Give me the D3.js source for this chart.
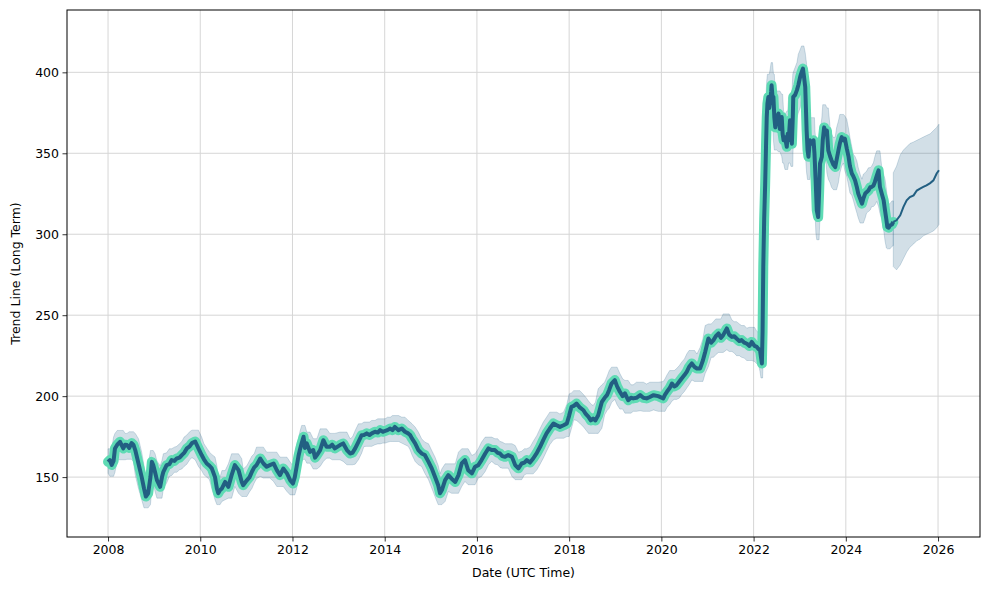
<!DOCTYPE html>
<html><head><meta charset="utf-8">
<script src="https://cdn.jsdelivr.net/npm/d3@7"></script>
<style>body{margin:0;background:#fff}svg{display:block}text{font-family:"DejaVu Sans",sans-serif}</style>
</head><body><svg id="c" width="989" height="590"></svg>
<script>
// ---- data (decimal years / trend values) ----
const histYears=[2008.00,2008.04,2008.08,2008.12,2008.15,2008.20,2008.26,2008.33,2008.37,2008.41,2008.46,2008.51,2008.55,2008.59,2008.66,2008.73,2008.78,2008.82,2008.87,2008.92,2008.95,2008.98,2009.02,2009.06,2009.13,2009.17,2009.20,2009.27,2009.33,2009.38,2009.44,2009.49,2009.55,2009.60,2009.65,2009.71,2009.77,2009.82,2009.89,2009.96,2010.03,2010.08,2010.14,2010.20,2010.25,2010.32,2010.36,2010.39,2010.43,2010.47,2010.54,2010.61,2010.68,2010.75,2010.83,2010.90,2010.93,2011.01,2011.07,2011.12,2011.17,2011.22,2011.30,2011.37,2011.44,2011.51,2011.59,2011.66,2011.73,2011.80,2011.88,2011.95,2012.01,2012.05,2012.09,2012.13,2012.16,2012.20,2012.24,2012.27,2012.31,2012.38,2012.45,2012.49,2012.53,2012.60,2012.67,2012.74,2012.81,2012.86,2012.92,2013.03,2013.10,2013.18,2013.25,2013.30,2013.36,2013.43,2013.50,2013.55,2013.61,2013.67,2013.72,2013.79,2013.85,2013.90,2013.96,2014.01,2014.06,2014.12,2014.17,2014.22,2014.30,2014.37,2014.44,2014.51,2014.55,2014.59,2014.66,2014.73,2014.80,2014.87,2014.95,2015.02,2015.09,2015.16,2015.20,2015.24,2015.31,2015.38,2015.45,2015.53,2015.60,2015.67,2015.74,2015.81,2015.89,2015.96,2016.03,2016.10,2016.18,2016.25,2016.32,2016.39,2016.45,2016.50,2016.55,2016.61,2016.68,2016.76,2016.83,2016.90,2016.97,2017.03,2017.08,2017.15,2017.22,2017.30,2017.37,2017.44,2017.51,2017.58,2017.66,2017.73,2017.80,2017.88,2017.95,2018.00,2018.05,2018.10,2018.16,2018.23,2018.31,2018.36,2018.42,2018.47,2018.52,2018.57,2018.63,2018.71,2018.77,2018.82,2018.87,2018.92,2018.99,2019.04,2019.10,2019.16,2019.21,2019.28,2019.34,2019.39,2019.46,2019.54,2019.61,2019.68,2019.75,2019.83,2019.93,2020.04,2020.08,2020.12,2020.18,2020.23,2020.28,2020.33,2020.39,2020.44,2020.50,2020.55,2020.60,2020.66,2020.72,2020.77,2020.84,2020.90,2020.95,2021.02,2021.08,2021.13,2021.18,2021.24,2021.29,2021.34,2021.42,2021.47,2021.53,2021.58,2021.63,2021.69,2021.74,2021.80,2021.85,2021.91,2021.96,2022.02,2022.07,2022.11,2022.14,2022.16,2022.18,2022.195,2022.21,2022.23,2022.25,2022.27,2022.285,2022.30,2022.32,2022.34,2022.36,2022.38,2022.39,2022.41,2022.43,2022.45,2022.47,2022.50,2022.54,2022.57,2022.61,2022.63,2022.65,2022.68,2022.72,2022.74,2022.76,2022.79,2022.81,2022.83,2022.85,2022.86,2022.90,2022.94,2022.97,2023.01,2023.04,2023.07,2023.09,2023.12,2023.15,2023.17,2023.19,2023.22,2023.26,2023.30,2023.32,2023.33,2023.35,2023.37,2023.40,2023.42,2023.44,2023.48,2023.50,2023.53,2023.56,2023.59,2023.62,2023.66,2023.69,2023.73,2023.77,2023.80,2023.84,2023.87,2023.91,2023.95,2023.98,2024.02,2024.06,2024.09,2024.13,2024.16,2024.20,2024.24,2024.27,2024.31,2024.35,2024.38,2024.42,2024.45,2024.49,2024.53,2024.56,2024.60,2024.63,2024.67,2024.71,2024.74,2024.78,2024.82,2024.85,2024.88,2024.90,2024.93,2024.96,2025.00,2025.03];
const histTrend=[159.4,160.5,157.5,160,167.7,170,171.8,167.7,170,169.8,168,171.0,170,166.7,158.4,150.0,143,138,140,150,159.4,157.4,153,148.1,144.0,150,153.3,157.4,158,160.5,160,161.5,162,163.6,165,167.7,169,171.0,172.0,167.7,163.6,161,158.4,157,155.4,150.0,143,140.0,142,143.0,147.0,144.0,151.2,157.4,154.3,147.0,145,148,150,153.3,156,157.4,161.5,158.4,156.4,157.4,158.4,154.3,151.2,155.3,152.3,148.1,146.0,150,156.4,163,166.7,171,174.9,168,170.8,165.6,166.7,162,163.6,166.7,172.8,168.7,168.7,170,167.7,169.8,170.8,166.7,164.6,165,167.7,171.8,175.9,176,177.0,176,177.0,178.0,177.5,179.0,178,178.5,179,180.0,179,181.0,179.0,180.0,178.0,177.0,176,173.9,170.8,166.7,164.6,163.6,159.4,155.4,150.2,145.0,140,142.0,148.1,151.2,149.0,147.0,151.2,158.4,160.5,154.3,152.3,156.4,157.4,160.5,164.6,167.7,166.7,166.7,165,164.6,163,162.5,163.6,162.5,157.4,155.4,158.4,159,160.5,159,161.5,165,168.7,173,177.0,180,183.1,182,181.0,182,183.1,188,193.4,194,195.4,193,191.3,189,187.2,185,186.2,185,188.2,196.5,199,200.6,204,207.8,209.9,206,202.7,200,201.7,197.5,199,198.6,199,200.6,199,198.6,199.5,200.6,200.0,198.6,201,202.7,205,207.8,206,206.8,209,210.9,213,215.0,218,220.2,218,217.1,217.1,222,227.3,235.6,233,234.6,237,238.7,236,237.7,241.8,238,236.6,237,235.6,234,234.6,233,232.5,231,233.5,231,230.4,229,228.4,224,220.2,240,280,310,330,355,372,380.7,384.8,378,382.7,388,392,385,384.8,372,366,372,374.5,365,372.4,362,358,360,354,362,358,370.4,360,355.9,372,384.8,386,389,392,397.2,400,402.3,398,391,364.3,352,347.8,358,356,358,350,343.6,330,314.8,310.6,325,343.6,347.8,358,366,362,364,351.8,348,345.7,343,341.5,346,351.8,356,360,358,359,353,347.8,342,337.5,336,333.3,329,325.1,322,318.9,322,325.1,326,327,329,329.2,330,332.3,336,339.5,329.2,325,321,314.8,309,304.5,304,305.5,306,307.6];
// half-width of the uncertainty band by period (start year -> spread)
const spreadStarts=[2008,2018,2021,2022.2,2024,2024.85];
const spreadValues=[7,8,9,14,12,13];
const fcYears=[2025.03,2025.10,2025.18,2025.25,2025.32,2025.39,2025.47,2025.54,2025.61,2025.68,2025.75,2025.83,2025.90,2025.97,2026.02];
const fcTrend=[307.6,308.6,311.7,316.9,321,323,324,327,328.2,329.2,330.2,331.6,333.3,337.5,339.5];
const fcUpper=[338,342,349,352,354,356,357,358,359,360,361,362,364,366,368];
const fcLower=[280,278,281,285,289,292,294,296,297,299,300,301,302,304,306];
const xTicks=[2008,2010,2012,2014,2016,2018,2020,2022,2024,2026];
const yTicks=[150,200,250,300,350,400];

// ---- drawing ----
const svg=d3.select("#c");
const L=67,R=980,T=10,B=537;
const x=d3.scaleLinear().domain([2007.11,2026.91]).range([L,R]);
const y=d3.scaleLinear().domain([113,438.5]).range([B,T]);

const gGrid=svg.append("g");
xTicks.forEach(t=>gGrid.append("line").attr("x1",x(t)).attr("x2",x(t)).attr("y1",T).attr("y2",B));
yTicks.forEach(t=>gGrid.append("line").attr("x1",L).attr("x2",R).attr("y1",y(t)).attr("y2",y(t)));
gGrid.selectAll("line").attr("stroke","#d6d6d6").attr("stroke-width",1);

function spreadAt(yr){let s=spreadValues[0];spreadStarts.forEach((st,i)=>{if(yr>=st)s=spreadValues[i];});return s;}
const hist=histYears.map((yr,i)=>{
  const nb=[histTrend[Math.max(0,i-1)],histTrend[i],histTrend[Math.min(histTrend.length-1,i+1)]];
  const s=spreadAt(yr);
  return {x:yr,v:histTrend[i],lo:d3.min(nb)-s,hi:d3.max(nb)+s};
});
const fc=fcYears.map((yr,i)=>({x:yr,v:fcTrend[i],lo:fcLower[i],hi:fcUpper[i]}));

const area=d3.area().x(d=>x(d.x)).y0(d=>y(d.lo)).y1(d=>y(d.hi));
const bandColor="#1f5f88";
[hist,fc].forEach(data=>{
  svg.append("path").datum(data).attr("d",area).attr("fill",bandColor).attr("fill-opacity",0.2)
     .attr("stroke",bandColor).attr("stroke-opacity",0.2).attr("stroke-width",1);
});

const line=d3.line().x(d=>x(d.x)).y(d=>y(d.v));
svg.append("path").datum(hist).attr("d",line).attr("fill","none").attr("stroke","#5edbb4")
   .attr("stroke-width",10).attr("stroke-linejoin","round").attr("stroke-linecap","round");
svg.append("path").datum(hist).attr("d",line).attr("fill","none").attr("stroke","#225f82")
   .attr("stroke-width",4).attr("stroke-linejoin","round");
svg.append("path").datum(fc).attr("d",line).attr("fill","none").attr("stroke","#225f82")
   .attr("stroke-width",2);

// axes
const xAxis=d3.axisBottom(x).tickValues(xTicks).tickFormat(d3.format("d")).tickSize(4.5).tickPadding(3.5).tickSizeOuter(0);
const yAxis=d3.axisLeft(y).tickValues(yTicks).tickFormat(d3.format("d")).tickSize(4.5).tickPadding(3.5).tickSizeOuter(0);
const gx=svg.append("g").attr("transform",`translate(0,${B})`).call(xAxis);
const gy=svg.append("g").attr("transform",`translate(${L},0)`).call(yAxis);
[gx,gy].forEach(g=>{g.select(".domain").remove();g.selectAll("line").attr("stroke","#000").attr("stroke-width",0.8);
  g.selectAll("text").attr("fill","#000").style("font-size","12.5px").style("font-family","'DejaVu Sans',sans-serif");});

svg.append("rect").attr("x",L).attr("y",T).attr("width",R-L).attr("height",B-T)
   .attr("fill","none").attr("stroke","#000").attr("stroke-width",1);

svg.append("text").attr("x",(L+R)/2).attr("y",577).attr("text-anchor","middle")
   .style("font-size","12.5px").text("Date (UTC Time)");
svg.append("text").attr("transform",`translate(20,${(T+B)/2}) rotate(-90)`).attr("text-anchor","middle")
   .style("font-size","12.5px").text("Trend Line (Long Term)");
</script></body></html>
